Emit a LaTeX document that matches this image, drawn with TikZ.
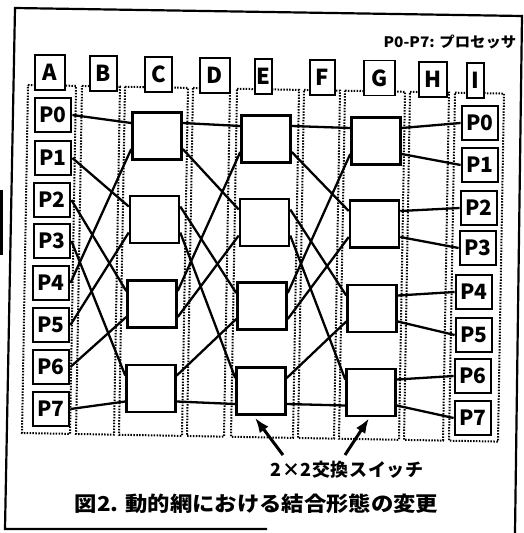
\documentclass[tikz,border=0pt]{standalone}
\usepackage{fontspec}
\setmainfont{Noto Sans CJK JP}
\usetikzlibrary{arrows.meta,calc}
\begin{document}
\begin{tikzpicture}[x=1pt,y=-1pt,
  frame/.style={line width=2.2pt},
  colbox/.style={line width=2pt, dash pattern=on 1.5pt off 1.4pt},
  lab/.style={draw, line width=1.8pt, fill=white, minimum height=35pt, inner sep=0pt,
    font=\bfseries\fontsize{22}{22}\selectfont},
  proc/.style={draw, line width=2.8pt, fill=white, minimum width=36pt, minimum height=34pt,
    inner sep=0pt, font=\bfseries\fontsize{21}{21}\selectfont},
  sw/.style={draw, line width=2.5pt, fill=white, minimum width=49pt, minimum height=47pt, inner sep=0pt},
  wire/.style={line width=2.3pt},
  pointer/.style={line width=3pt, -{Latex[length=15pt,width=11pt]}},
]
\useasboundingbox (0,0) rectangle (524,533);
% frame (as scanned)
\draw[frame] (267,529) -- (5,529) -- (15,8) -- (522,16) -- (515,533);
\fill (0,190) rectangle (3,255);
% dotted columns
\foreach \l/\r in {28/76,82/120,125/188,193/230,237/299,304/340,345/405,410/449,455/504} {
  \draw[colbox] (\l,{85+0.018*(\l-28)}) -- (\r,{85+0.018*(\r-28)})
     -- ({\r-6},{433+0.018*(\r-28)}) -- ({\l-6},{433+0.018*(\l-28)}) -- cycle;
}
% column labels
\node[lab, minimum width=30pt] (lA) at (50,72.5) {A};
\node[lab, minimum width=27pt] (lB) at (103.5,73.5) {B};
\node[lab, minimum width=27pt] (lC) at (158.5,74.5) {C};
\node[lab, minimum width=30pt] (lD) at (215,75.5) {D};
\node[lab, minimum width=17pt] (lE) at (263.5,76.5) {E};
\node[lab, minimum width=25pt] (lF) at (322.5,77.5) {F};
\node[lab, minimum width=31pt] (lG) at (379.5,78) {G};
\node[lab, minimum width=28pt] (lH) at (433,79.5) {H};
\node[lab, minimum width=17pt] (lI) at (475.5,80.5) {I};
% processors, left
\node[proc] (L0) at (53,115) {P0};
\node[proc] (L1) at (53,158) {P1};
\node[proc] (L2) at (52,200) {P2};
\node[proc] (L3) at (52,241) {P3};
\node[proc] (L4) at (51,283) {P4};
\node[proc] (L5) at (51,325) {P5};
\node[proc] (L6) at (51,367) {P6};
\node[proc] (L7) at (51,409) {P7};
% processors, right
\node[proc] (R0) at (480,123) {P0};
\node[proc] (R1) at (480,165) {P1};
\node[proc] (R2) at (479,208) {P2};
\node[proc] (R3) at (478,248) {P3};
\node[proc] (R4) at (474,292) {P4};
\node[proc] (R5) at (474,335) {P5};
\node[proc] (R6) at (473,376) {P6};
\node[proc] (R7) at (473,418) {P7};
% switches
\node[sw] (C1) at (157,136) {};
\node[sw] (C2) at (154.5,219.5) {};
\node[sw] (C3) at (152,304) {};
\node[sw] (C4) at (151,388.5) {};
\node[sw] (E1) at (266,139) {};
\node[sw] (E2) at (264.5,222.5) {};
\node[sw] (E3) at (262,306) {};
\node[sw] (E4) at (261,391) {};
\node[sw] (G1) at (376,141) {};
\node[sw] (G2) at (374.5,224) {};
\node[sw] (G3) at (372,308.5) {};
\node[sw] (G4) at (371,392.5) {};
% stage A -> C
\foreach \k/\s/\p in {0/1/13,1/2/13,2/3/13,3/4/13,4/1/-13,5/2/-13,6/3/-13,7/4/-13}
  \draw[wire] (L\k.east) -- ([yshift=\p pt]C\s.west);
% stage C -> E and E -> G (shuffle)
\foreach \a/\b in {C/E,E/G} {
  \foreach \s/\ps/\t/\pt in {1/13/1/13, 1/-13/2/13, 2/13/3/13, 2/-13/4/13,
                             3/13/1/-13, 3/-13/2/-13, 4/13/3/-13, 4/-13/4/-13}
    \draw[wire] ([yshift=\ps pt]\a\s.east) -- ([yshift=\pt pt]\b\t.west);
}
% stage G -> I
\foreach \s/\ps/\k in {1/13/0,1/-13/1,2/13/2,2/-13/3,3/13/4,3/-13/5,4/13/6,4/-13/7}
  \draw[wire] ([yshift=\ps pt]G\s.east) -- (R\k.west);
% texts
\node[font=\bfseries\fontsize{14.5}{14.5}\selectfont] (legend) at (450,41.5) {\scalebox{1.06}[1]{P0-P7: プロセッサ}};
\node[font=\bfseries\fontsize{18}{18}\selectfont\addfontfeature{LetterSpace=3}] (swlabel) at (347,470) {2×2交換スイッチ};
\node[font=\bfseries\fontsize{20.5}{20.5}\selectfont] (caption) at (256.5,504) {\scalebox{1.09}[1]{図2. 動的網における結合形態の変更}};
% pointers
\coordinate (t1) at (283,455);
\coordinate (t2) at (345,455);
\draw[pointer] (t1) -- ([xshift=-6pt,yshift=-2pt]E4.south);
\draw[pointer] (t2) -- ([xshift=-2pt,yshift=-1pt]G4.south);
\end{tikzpicture}
\end{document}
